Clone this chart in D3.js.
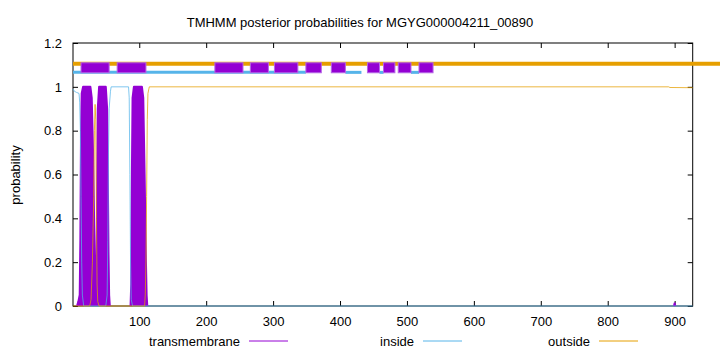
<!DOCTYPE html>
<html>
<head>
<meta charset="utf-8">
<script src="https://cdn.jsdelivr.net/npm/d3@7"></script>
<style>
  body { margin: 0; background: #fff; }
  svg text { font-family: "Liberation Sans", Arial, sans-serif; }
</style>
</head>
<body>
<div id="chart"></div>
<script>
var width = 720,
    height = 352;

var chartTitle = 'TMHMM posterior probabilities for MGYG000004211_00890';
var seqLength = 927;
var xTicks = [100, 200, 300, 400, 500, 600, 700, 800, 900];
var yTicks = [0, 0.2, 0.4, 0.6, 0.8, 1, 1.2];
var legendNames = ['transmembrane', 'inside', 'outside'];

// posterior probability curves, [residue, probability]
var tmPoints = [[1, 0], [7, 0], [9, 0.02], [11, 0.05], [12, 0.3], [13, 0.8], [14, 0.97], [16, 1], [27, 1],
    [29, 0.95], [31, 0.7], [33, 0.3], [34, 0.08], [35, 0.03], [36, 0.1], [37, 0.5], [38, 0.9], [40, 1],
    [50, 1], [52, 0.9], [53, 0.6], [54, 0.25], [55, 0.05], [56, 0], [70, 0], [87, 0], [88, 0.1], [89, 0.6],
    [90, 0.95], [92, 1], [104, 1], [106, 0.95], [108, 0.6], [110, 0.2], [111, 0.05], [112, 0],
    [500, 0], [899, 0], [900, 0.012], [901, 0], [927, 0]];
var insidePoints = [[1, 0.99], [3, 0.98], [6, 0.975], [10, 0.97], [11, 0.93], [12, 0.8], [13, 0.5], [14, 0.2],
    [15, 0.05], [17, 0], [50, 0], [52, 0.05], [53, 0.3], [54, 0.7], [55, 0.9], [57, 0.98], [58, 1],
    [84, 1], [85, 0.95], [86, 0.6], [87, 0.2], [88, 0.03], [90, 0], [927, 0]];
var outsidePoints = [[1, 0], [26, 0], [28, 0.03], [30, 0.2], [32, 0.5], [33, 0.8], [34, 0.92], [35, 0.85],
    [36, 0.4], [37, 0.1], [38, 0.02], [40, 0], [108, 0], [109, 0.05], [110, 0.2], [111, 0.5],
    [112, 0.85], [113, 0.97], [115, 1], [891, 1], [893, 0.997], [927, 0.996]];

// predicted topology band at the top: [start, end]
var tmSegments = [[13, 55], [67, 110], [213, 255], [266, 293], [302, 337], [349, 372], [387, 408],
    [441, 459], [465, 482], [487, 506], [518, 539]];
var insideSegments = [[1, 349], [408, 432], [459, 465], [506, 518]];
var outsideSegments = [[1, 990]];
var bandLevels = {tm: 1.087, inside: 1.066, outside: 1.105};

var colors = {tm: '#9400d3', inside: '#56b4e9', outside: '#e69f00'};

var svg = d3.select('#chart')
    .append('svg')
    .attr('width', width)
    .attr('height', height);

var x = d3.scaleLinear().domain([1, seqLength]).range([73, 692.7]);
var y = d3.scaleLinear().domain([0, 1.2]).range([306, 43]);

// title
svg.append('text')
    .attr('x', 360)
    .attr('y', 27)
    .attr('text-anchor', 'middle')
    .attr('font-size', 13)
    .text(chartTitle);

svg.append('text')
    .attr('transform', 'translate(20,175) rotate(-90)')
    .attr('text-anchor', 'middle')
    .attr('font-size', 13)
    .text('probability');

// axes
var gx = svg.append('g')
    .attr('transform', 'translate(0,306)')
    .call(d3.axisBottom(x).tickValues(xTicks).tickSize(-5).tickPadding(11).tickFormat(d3.format('d')));
var gy = svg.append('g')
    .attr('transform', 'translate(73,0)')
    .call(d3.axisLeft(y).tickValues(yTicks).tickSize(-5).tickPadding(11).tickFormat(d3.format('~g')));
var gt = svg.append('g')
    .attr('transform', 'translate(0,43)')
    .call(d3.axisTop(x).tickValues(xTicks).tickSize(-5).tickFormat(''));
var gr = svg.append('g')
    .attr('transform', 'translate(692.7,0)')
    .call(d3.axisRight(y).tickValues(yTicks).tickSize(-5).tickFormat(''));

[gx, gy, gt, gr].forEach(function(g) {
    g.selectAll('.domain').remove();
    g.selectAll('.tick line').attr('stroke', '#000').attr('stroke-width', 1);
    g.selectAll('.tick text').attr('font-size', 13).attr('font-family', '"Liberation Sans", Arial, sans-serif').attr('fill', '#000');
});

svg.append('rect')
    .attr('x', 73)
    .attr('y', 43)
    .attr('width', 692.7 - 73)
    .attr('height', 306 - 43)
    .attr('fill', 'none')
    .attr('stroke', '#000')
    .attr('stroke-width', 1);

// transmembrane drawn as dense impulses -> filled area
var area = d3.area()
    .x(function(d) { return x(d[0]); })
    .y0(y(0))
    .y1(function(d) { return y(d[1]); });
var line = d3.line()
    .x(function(d) { return x(d[0]); })
    .y(function(d) { return y(d[1]); });

svg.append('path')
    .datum(tmPoints)
    .attr('d', area)
    .attr('fill', colors.tm);

// impulse width: outline only where probability is above zero
var humpEdge = d3.line()
    .defined(function(d, i) {
        var prev = tmPoints[i - 1], next = tmPoints[i + 1];
        return d[1] > 0 || (prev && prev[1] > 0) || (next && next[1] > 0);
    })
    .x(function(d) { return x(d[0]); })
    .y(function(d) { return y(d[1]); });

svg.append('path')
    .datum(tmPoints)
    .attr('d', humpEdge)
    .attr('fill', 'none')
    .attr('stroke', colors.tm)
    .attr('stroke-width', 2)
    .attr('stroke-linejoin', 'round');

svg.append('path')
    .datum(insidePoints)
    .attr('d', line)
    .attr('fill', 'none')
    .attr('stroke', colors.inside)
    .attr('stroke-opacity', 0.75)
    .attr('stroke-width', 1);

svg.append('path')
    .datum(outsidePoints)
    .attr('d', line)
    .attr('fill', 'none')
    .attr('stroke', colors.outside)
    .attr('stroke-opacity', 0.75)
    .attr('stroke-width', 1);

// topology band
svg.selectAll('.out-seg')
    .data(outsideSegments)
    .enter()
    .append('line')
    .attr('x1', function(d) { return x(d[0]); })
    .attr('x2', function(d) { return Math.min(x(d[1]), width); })
    .attr('y1', y(bandLevels.outside))
    .attr('y2', y(bandLevels.outside))
    .attr('stroke', colors.outside)
    .attr('stroke-width', 4);

svg.selectAll('.in-seg')
    .data(insideSegments)
    .enter()
    .append('line')
    .attr('x1', function(d) { return x(d[0]); })
    .attr('x2', function(d) { return x(d[1]); })
    .attr('y1', y(bandLevels.inside))
    .attr('y2', y(bandLevels.inside))
    .attr('stroke', colors.inside)
    .attr('stroke-width', 3);

svg.selectAll('.tm-seg')
    .data(tmSegments)
    .enter()
    .append('rect')
    .attr('x', function(d) { return x(d[0]); })
    .attr('width', function(d) { return x(d[1]) - x(d[0]); })
    .attr('y', y(bandLevels.tm) - 5)
    .attr('height', 10)
    .attr('fill', colors.tm)
    .attr('stroke', '#b565e6')
    .attr('stroke-width', 1);

// legend
var legendX = [240, 414, 590];
var legendKeys = ['tm', 'inside', 'outside'];
legendNames.forEach(function(name, i) {
    svg.append('text')
        .attr('x', legendX[i])
        .attr('y', 346)
        .attr('text-anchor', 'end')
        .attr('font-size', 13)
        .text(name);
    svg.append('line')
        .attr('x1', legendX[i] + 9)
        .attr('x2', legendX[i] + 48)
        .attr('y1', 341)
        .attr('y2', 341)
        .attr('stroke', colors[legendKeys[i]])
        .attr('stroke-width', 1);
});
</script>
</body>
</html>
